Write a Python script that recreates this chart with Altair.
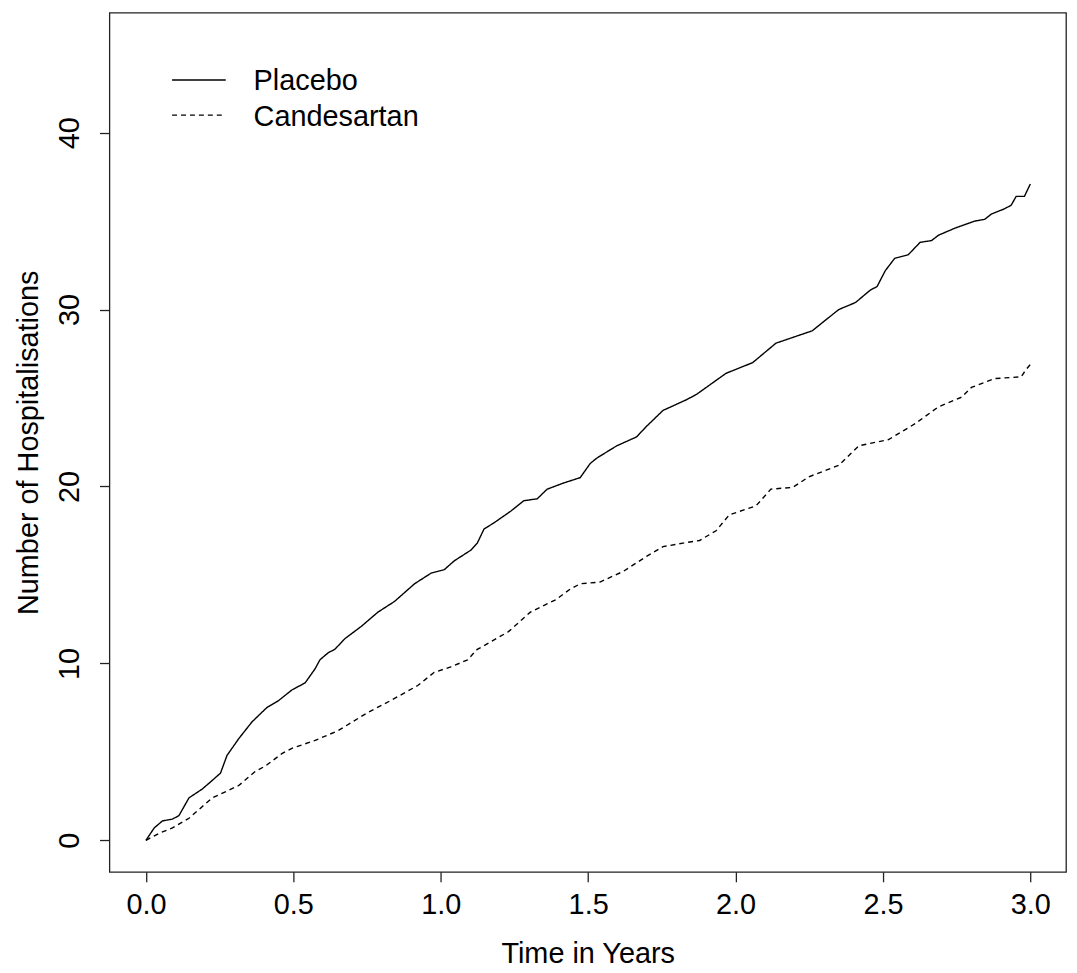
import altair as alt
import pandas as pd

# Values
placebo_t = [0.0, 0.028, 0.056, 0.09, 0.112, 0.146, 0.191, 0.219, 0.253, 0.275, 0.315, 0.36, 0.41, 0.45,
             0.495, 0.54, 0.574, 0.59, 0.618, 0.641, 0.675, 0.731, 0.787, 0.843, 0.911, 0.967, 1.012, 1.046,
             1.102, 1.124, 1.147, 1.181, 1.237, 1.282, 1.327, 1.361, 1.417, 1.473, 1.507, 1.529, 1.597, 1.664,
             1.698, 1.754, 1.833, 1.867, 1.968, 2.058, 2.137, 2.26, 2.35, 2.407, 2.457, 2.48, 2.508, 2.54,
             2.586, 2.626, 2.665, 2.688, 2.744, 2.811, 2.845, 2.868, 2.913, 2.935, 2.952, 2.98, 3.0]
placebo_v = [0.0, 0.7, 1.1, 1.2, 1.4, 2.4, 2.9, 3.3, 3.8, 4.8, 5.75, 6.7, 7.5, 7.9,
             8.5, 8.9, 9.7, 10.2, 10.6, 10.8, 11.4, 12.1, 12.9, 13.5, 14.5, 15.1, 15.3, 15.8,
             16.4, 16.8, 17.6, 17.95, 18.6, 19.2, 19.3, 19.85, 20.2, 20.5, 21.3, 21.6, 22.3, 22.8,
             23.4, 24.3, 24.9, 25.2, 26.4, 27.0, 28.1, 28.8, 30.0, 30.4, 31.1, 31.3, 32.2, 32.9,
             33.1, 33.8, 33.9, 34.2, 34.6, 35.0, 35.1, 35.4, 35.7, 35.9, 36.4, 36.4, 37.1]

cand_t = [0.0, 0.011, 0.045, 0.09, 0.146, 0.225, 0.315, 0.371, 0.405, 0.461, 0.495, 0.574, 0.652,
          0.75, 0.83, 0.922, 0.978, 1.034, 1.091, 1.124, 1.147, 1.23, 1.304, 1.39, 1.439, 1.473, 1.54,
          1.619, 1.698, 1.754, 1.822, 1.878, 1.934, 1.979, 2.069, 2.12, 2.194, 2.249, 2.35, 2.418, 2.519,
          2.609, 2.688, 2.767, 2.80, 2.879, 2.969, 2.985, 3.0]
cand_v = [0.0, 0.1, 0.4, 0.7, 1.25, 2.4, 3.1, 3.9, 4.2, 4.9, 5.2, 5.65, 6.2,
          7.2, 7.9, 8.75, 9.5, 9.8, 10.2, 10.8, 11.0, 11.8, 12.9, 13.6, 14.2, 14.5, 14.6,
          15.2, 16.05, 16.6, 16.8, 16.95, 17.5, 18.4, 18.9, 19.85, 19.95, 20.55, 21.2, 22.3, 22.65,
          23.55, 24.5, 25.05, 25.6, 26.1, 26.2, 26.6, 26.9]

series_names = ["Placebo", "Candesartan"]
x_ticks = [0.0, 0.5, 1.0, 1.5, 2.0, 2.5, 3.0]
y_ticks = [0, 10, 20, 30, 40]

df = pd.concat([
    pd.DataFrame({"t": placebo_t, "v": placebo_v, "group": series_names[0]}),
    pd.DataFrame({"t": cand_t, "v": cand_v, "group": series_names[1]}),
])

FONT = "Liberation Sans"
FS = 29

xscale = alt.Scale(domain=[-0.1238, 3.121], nice=False, zero=False)
yscale = alt.Scale(domain=[-1.78, 46.78], nice=False, zero=False)

lines = alt.Chart(df).mark_line(color="black", strokeWidth=1.4).encode(
    x=alt.X("t:Q", scale=xscale,
            axis=alt.Axis(title="Time in Years", values=x_ticks, format=".1f", grid=False, domain=False,
                          tickSize=10, tickColor="#222", tickWidth=1.3, labelFontSize=FS, labelFont=FONT,
                          labelColor="black", labelPadding=9, titleFontSize=FS, titleFont=FONT,
                          titleFontWeight="normal", titleColor="black", titlePadding=20, labelFlush=False)),
    y=alt.Y("v:Q", scale=yscale,
            axis=alt.Axis(title="Number of Hospitalisations", values=y_ticks, grid=False, domain=False,
                          tickSize=10, tickColor="#222", tickWidth=1.3, labelFontSize=FS, labelFont=FONT,
                          labelColor="black", labelAngle=270, labelAlign="center", labelBaseline="bottom",
                          labelPadding=15, titleFontSize=FS, titleFont=FONT, titleFontWeight="normal",
                          titleColor="black", titlePadding=12, labelFlush=False)),
    strokeDash=alt.StrokeDash("group:N", scale=alt.Scale(domain=series_names, range=[[1, 0], [5, 4]]),
                              legend=None),
    detail="group:N",
)

leg1_line = alt.Chart(pd.DataFrame({"g": [series_names[0]]})).mark_rule(color="black", strokeWidth=1.4).encode(
    x=alt.value(63), x2=alt.value(117), y=alt.value(67.7))
leg2_line = alt.Chart(pd.DataFrame({"g": [series_names[1]]})).mark_rule(
    color="black", strokeWidth=1.4, strokeDash=[5, 4]).encode(
    x=alt.value(63), x2=alt.value(117), y=alt.value(103))
leg_text1 = alt.Chart(pd.DataFrame({"g": [series_names[0]]})).mark_text(
    align="left", baseline="middle", font=FONT, fontSize=FS, color="black").encode(
    x=alt.value(145), y=alt.value(69), text="g:N")
leg_text2 = alt.Chart(pd.DataFrame({"g": [series_names[1]]})).mark_text(
    align="left", baseline="middle", font=FONT, fontSize=FS, color="black").encode(
    x=alt.value(145), y=alt.value(105), text="g:N")

chart = alt.layer(lines, leg1_line, leg2_line, leg_text1, leg_text2).properties(
    width=962, height=864,
    autosize=alt.AutoSizeParams(type="none"),
    padding={"left": 102, "top": 2, "right": 3, "bottom": 98},
    background="white",
).configure_view(stroke="#222", strokeWidth=1.3)

chart.save("out.html", embed_options={"renderer": "svg", "actions": False})
